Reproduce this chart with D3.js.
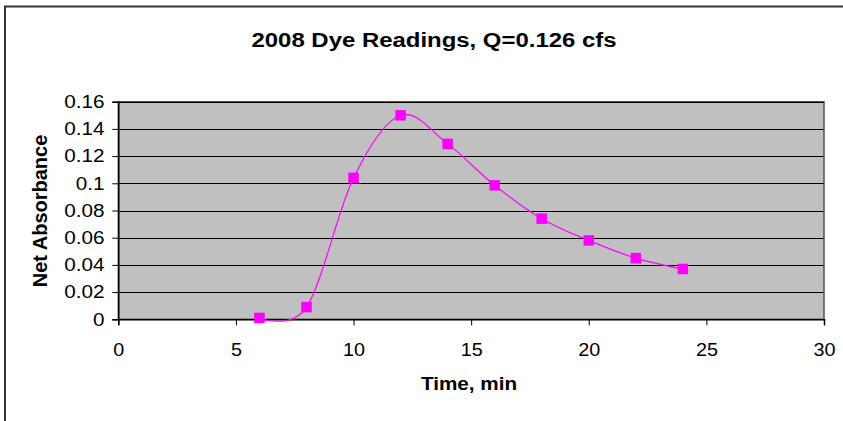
<!DOCTYPE html>
<html><head><meta charset="utf-8">
<script src="https://cdn.jsdelivr.net/npm/d3@7"></script>
<style>
html,body{margin:0;padding:0;background:#fff;overflow:hidden;}
svg{display:block;font-family:"Liberation Sans",Arial,sans-serif;}
</style></head>
<body>
<svg id="chart" width="843" height="421"></svg>
<script>
const times = [6, 8, 10, 12, 14, 16, 18, 20, 22, 24];
const absorbance = [0.001, 0.009, 0.104, 0.150, 0.129, 0.0985, 0.074, 0.058, 0.045, 0.037];
const xTicks = [0, 5, 10, 15, 20, 25, 30];
const yTicks = [0, 0.02, 0.04, 0.06, 0.08, 0.1, 0.12, 0.14, 0.16];
const titleText = "2008 Dye Readings, Q=0.126 cfs";
const xTitle = "Time, min";
const yTitle = "Net Absorbance";

const svg = d3.select("#chart");
const L = 118.3, R = 824, T = 101.7, B = 319.3;

// outer chart border (top and left edges visible)
svg.append("path").attr("d", "M5,421V6.5H843")
  .attr("fill", "none").attr("stroke", "#333").attr("stroke-width", 2);

const x = d3.scaleLinear().domain([0, 30]).range([L, R]);
const y = d3.scaleLinear().domain([0, 0.16]).range([B, T]);

// plot background
svg.append("rect").attr("x", L).attr("y", T).attr("width", R - L).attr("height", B - T)
  .attr("fill", "#C0C0C0").attr("stroke", "#555").attr("stroke-width", 1.5);

// gridlines
svg.append("g").selectAll("line").data(yTicks.filter(d => d > 0)).join("line")
  .attr("x1", L).attr("x2", R)
  .attr("y1", d => Math.round(y(d)) + 0.5).attr("y2", d => Math.round(y(d)) + 0.5)
  .attr("stroke", "#000").attr("stroke-width", 1.2);

// axes
const xAxis = d3.axisBottom(x).tickValues(xTicks).tickSize(6).tickPadding(18).tickFormat(d3.format("d"));
const gx = svg.append("g").attr("transform", `translate(0,${B})`).call(xAxis);
gx.select(".domain").attr("stroke", "#000").attr("stroke-width", 1.5);
gx.selectAll(".tick line").attr("stroke", "#000");
gx.selectAll(".tick text").attr("font-size", 18).attr("fill", "#000")
  .attr("font-family", "Liberation Sans, Arial, sans-serif")
  .attr("transform", "scale(1.1,1)");

const yAxis = d3.axisLeft(y).tickValues(yTicks).tickSize(6).tickPadding(6).tickFormat(d => d3.format("")(+d.toFixed(2)));
const gy = svg.append("g").attr("transform", `translate(${L},0)`).call(yAxis);
gy.select(".domain").attr("stroke", "#000").attr("stroke-width", 1.5);
gy.selectAll(".tick line").attr("stroke", "#000");
gy.selectAll(".tick text").attr("font-size", 18).attr("fill", "#000")
  .attr("font-family", "Liberation Sans, Arial, sans-serif")
  .attr("transform", "scale(1.15,1)");

// line
const pts = times.map((t, i) => [t, absorbance[i]]);
const line = d3.line().x(d => x(d[0])).y(d => y(d[1])).curve(d3.curveCardinal.tension(0));
svg.append("path").attr("d", line(pts)).attr("fill", "none").attr("stroke", "#FF00FF").attr("stroke-width", 1.2);

// markers
const ms = 10.5;
svg.append("g").selectAll("rect").data(pts).join("rect")
  .attr("x", d => x(d[0]) - ms / 2).attr("y", d => y(d[1]) - ms / 2)
  .attr("width", ms).attr("height", ms).attr("fill", "#FF00FF");

// titles
svg.append("text").attr("transform", "translate(434,46.7) scale(1.14,1)")
  .attr("text-anchor", "middle").attr("font-size", 21).attr("font-weight", "bold").text(titleText);

svg.append("text").attr("transform", "translate(469,390) scale(1.15,1)")
  .attr("text-anchor", "middle").attr("font-size", 18).attr("font-weight", "bold").text(xTitle);

svg.append("text").attr("transform", "translate(47,211) rotate(-90)")
  .attr("text-anchor", "middle").attr("font-size", 20).attr("font-weight", "bold").text(yTitle);
</script>
</body></html>
